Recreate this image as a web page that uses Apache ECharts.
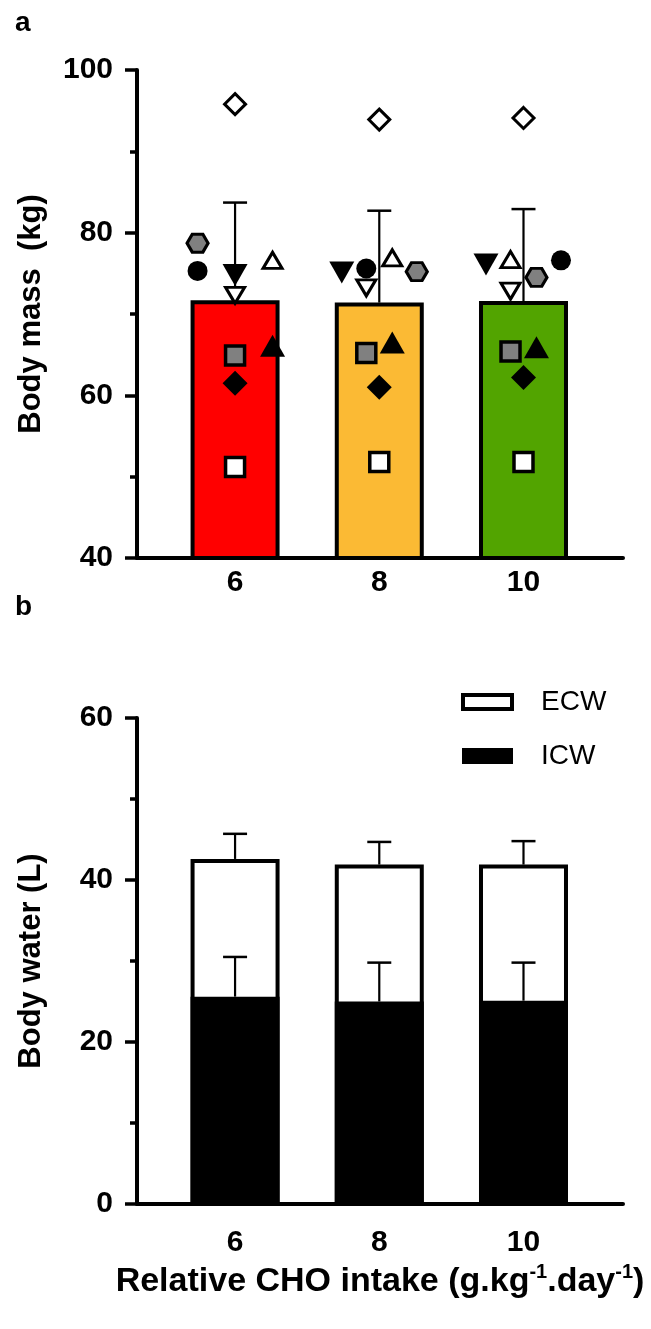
<!DOCTYPE html>
<html>
<head>
<meta charset="utf-8">
<script src="https://cdn.jsdelivr.net/npm/echarts@6/dist/echarts.min.js"></script>
<style>
  html, body { margin: 0; padding: 0; background: #fff; }
  #chart { width: 651px; height: 1329px; }
</style>
</head>
<body>
<div id="chart"></div>
<script>
// x categories (g CHO per kg per day)
var intakeLabels = ['6', '8', '10'];
var groupPos = [1, 2, 3];

// panel a - body mass (kg)
var massMean = [71.7, 71.4, 71.6];
var massSd = [12.0, 11.3, 11.3];
// one row per subject: values at 6, 8, 10
var subjectMass = [
    [95.8, 93.9, 94.1],   // open diamond
    [78.7, 75.2, 74.5],   // grey hexagon
    [75.3, 75.6, 76.6],   // filled circle
    [74.8, 75.1, 76.1],   // filled down triangle
    [76.6, 76.9, 76.7],   // open up triangle
    [72.3, 73.2, 72.8],   // open down triangle
    [64.9, 65.2, 65.4],   // grey square
    [66.1, 66.5, 65.9],   // filled up triangle
    [61.5, 61.0, 62.2],   // filled diamond
    [51.2, 51.8, 51.8]    // open square
];
// horizontal scatter of each subject inside its group (group units)
var subjectJitter = [
    [0, 0, 0],
    [-0.26, 0.26, 0.09],
    [-0.26, -0.09, 0.26],
    [0, -0.26, -0.26],
    [0.26, 0.09, -0.09],
    [0, -0.09, -0.09],
    [0, -0.09, -0.09],
    [0.26, 0.09, 0.09],
    [0, 0, 0],
    [0, 0, 0]
];

// panel b - body water (L)
var icwMean = [25.6, 25.0, 25.1];
var icwSd = [4.9, 4.8, 4.7];
var ecwMean = [17.0, 16.9, 16.8];
var totalSd = [3.1, 2.8, 2.9];

var barColors = ['#FF0000', '#FBBA34', '#52A400'];
var hexPath = 'path://M0,8.66L5,0L15,0L20,8.66L15,17.32L5,17.32Z';
var subjectStyle = [
    { symbol: 'diamond', size: [21, 21], fill: '#fff', border: 3 },
    { symbol: hexPath, size: [21, 18], fill: '#808080', border: 3 },
    { symbol: 'circle', size: 20, fill: '#000', border: 0 },
    { symbol: 'triangle', rotate: 180, size: [25, 22], fill: '#000', border: 0 },
    { symbol: 'triangle', size: [19, 16], fill: '#fff', border: 3 },
    { symbol: 'triangle', rotate: 180, size: [19, 16], fill: '#fff', border: 3 },
    { symbol: 'rect', size: 19, fill: '#808080', border: 3.5 },
    { symbol: 'triangle', size: [25, 22], fill: '#000', border: 0 },
    { symbol: 'diamond', size: [25, 25], fill: '#000', border: 0 },
    { symbol: 'rect', size: 19, fill: '#fff', border: 3.5 }
];

var font = 'Liberation Sans, Arial, Helvetica, sans-serif';

function errorBar(params, api) {
    var x = api.value(0);
    var p0 = api.coord([x, api.value(1)]);
    var p1 = api.coord([x, api.value(2)]);
    var half = 12;
    return {
        type: 'group',
        children: [
            { type: 'line', shape: { x1: p0[0], y1: p0[1], x2: p1[0], y2: p1[1] },
              style: { stroke: '#000', lineWidth: 2.2 } },
            { type: 'line', shape: { x1: p1[0] - half, y1: p1[1], x2: p1[0] + half, y2: p1[1] },
              style: { stroke: '#000', lineWidth: 2.5 } }
        ]
    };
}

function xAxisOf(gi, margin) {
    return {
        gridIndex: gi, type: 'value', min: 0.32, max: 3.69,
        axisLine: { show: true, onZero: false, lineStyle: { color: '#000', width: 4 } },
        axisTick: { show: false },
        splitLine: { show: false },
        axisLabel: {
            customValues: groupPos,
            formatter: function(v) { return intakeLabels[Math.round(v) - 1]; },
            color: '#000', fontSize: 30, fontWeight: 'bold', fontFamily: font, margin: margin
        }
    };
}

function yAxisOf(gi, min, max, name) {
    return {
        gridIndex: gi, type: 'value', min: min, max: max, interval: 20,
        axisLine: { show: true, lineStyle: { color: '#000', width: 4 } },
        axisTick: { show: true, length: 12, lineStyle: { color: '#000', width: 3.5 } },
        minorTick: { show: true, splitNumber: 2, length: 7, lineStyle: { color: '#000', width: 3.5 } },
        splitLine: { show: false },
        minorSplitLine: { show: false },
        axisLabel: { color: '#000', fontSize: 30, fontWeight: 'bold', fontFamily: font, margin: 24 },
        name: name, nameLocation: 'middle', nameGap: 90,
        nameTextStyle: { color: '#000', fontSize: 31, fontWeight: 'bold', fontFamily: font }
    };
}

var series = [];

// panel a bars
series.push({
    type: 'bar', xAxisIndex: 0, yAxisIndex: 0, barWidth: 89, z: 2,
    data: massMean.map(function(v, i) {
        return { value: [groupPos[i], v],
                 itemStyle: { color: barColors[i], borderColor: '#000', borderWidth: 4 } };
    })
});
series.push({
    type: 'custom', xAxisIndex: 0, yAxisIndex: 0, z: 3, renderItem: errorBar,
    encode: { x: 0, y: [1, 2] },
    data: massMean.map(function(v, i) { return [groupPos[i], v, v + massSd[i]]; })
});
// individual subjects
subjectMass.forEach(function(row, s) {
    var st = subjectStyle[s];
    series.push({
        type: 'scatter', xAxisIndex: 0, yAxisIndex: 0, z: 4,
        symbol: st.symbol, symbolSize: st.size, symbolRotate: st.rotate || 0,
        itemStyle: { color: st.fill, borderColor: '#000', borderWidth: st.border, opacity: 1 },
        data: row.map(function(v, i) { return [groupPos[i] + subjectJitter[s][i], v]; })
    });
});

// panel b: ECW drawn as the full column, ICW painted over its lower part
series.push({
    name: 'ECW', type: 'bar', xAxisIndex: 1, yAxisIndex: 1, barWidth: 89, barGap: '-100%', z: 2,
    itemStyle: { color: '#fff', borderColor: '#000', borderWidth: 4 },
    data: ecwMean.map(function(v, i) { return [groupPos[i], icwMean[i] + v]; })
});
series.push({
    name: 'ICW', type: 'bar', xAxisIndex: 1, yAxisIndex: 1, barWidth: 89, barGap: '-100%', z: 3,
    itemStyle: { color: '#000', borderColor: '#000', borderWidth: 4 },
    data: icwMean.map(function(v, i) { return [groupPos[i], v]; })
});
series.push({
    type: 'custom', xAxisIndex: 1, yAxisIndex: 1, z: 4, renderItem: errorBar,
    encode: { x: 0, y: [1, 2] },
    data: icwMean.map(function(v, i) { return [groupPos[i], v, v + icwSd[i]]; })
});
series.push({
    type: 'custom', xAxisIndex: 1, yAxisIndex: 1, z: 4, renderItem: errorBar,
    encode: { x: 0, y: [1, 2] },
    data: icwMean.map(function(v, i) {
        var top = v + ecwMean[i];
        return [groupPos[i], top, top + totalSd[i]];
    })
});

var xb = xAxisOf(1, 24);
xb.name = '{b|Relative CHO intake (g.kg}{s|-1}{b|.day}{s|-1}{b|)}';
xb.nameLocation = 'middle';
xb.nameGap = 58;
xb.nameTextStyle = {
    rich: {
        b: { fontSize: 34, fontWeight: 'bold', fontFamily: font, color: '#000', lineHeight: 40 },
        s: { fontSize: 20, fontWeight: 'bold', fontFamily: font, color: '#000', lineHeight: 40, verticalAlign: 'top' }
    }
};

var option = {
    animation: false,
    backgroundColor: '#fff',
    title: [
        { text: 'a', left: 10, top: 4, textStyle: { fontSize: 28, fontWeight: 'bold', color: '#000', fontFamily: font } },
        { text: 'b', left: 10, top: 588, textStyle: { fontSize: 28, fontWeight: 'bold', color: '#000', fontFamily: font } }
    ],
    legend: {
        data: [{ name: 'ECW', itemStyle: { borderWidth: 4 } }, 'ICW'],
        orient: 'vertical', left: 456, top: 683,
        icon: 'rect', itemWidth: 49, itemHeight: 14, itemGap: 26,
        selectedMode: false,
        textStyle: { fontSize: 28, color: '#000', fontFamily: font, padding: [0, 0, 0, 24] }
    },
    grid: [
        { left: 137, top: 70, width: 486, height: 488, outerBoundsMode: 'none' },
        { left: 137, top: 718, width: 486, height: 486, outerBoundsMode: 'none' }
    ],
    xAxis: [xAxisOf(0, 10), xb],
    yAxis: [yAxisOf(0, 40, 100, 'Body mass  (kg)'), yAxisOf(1, 0, 60, 'Body water (L)')],
    series: series
};

var chart = echarts.init(document.getElementById('chart'), null, { renderer: 'canvas' });
chart.setOption(option);
</script>
</body>
</html>
